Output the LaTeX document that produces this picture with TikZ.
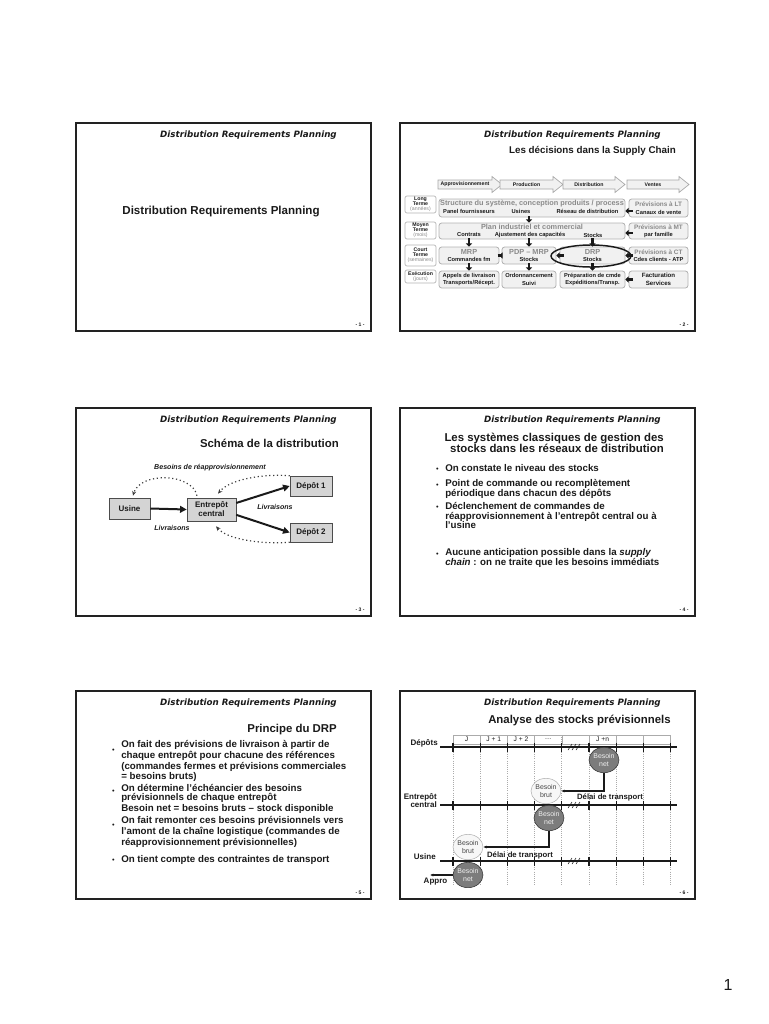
\documentclass[tikz,border=0pt]{standalone}
\usepackage{fontspec}
\setmainfont{Liberation Sans}
\newfontfamily\hdrfont{DejaVu Sans}
\usetikzlibrary{arrows.meta,shapes.geometric,shadows,positioning}
\definecolor{ink}{HTML}{1A1A1A}
\definecolor{frame}{HTML}{222222}
\definecolor{fog}{HTML}{8A8A8A}
\definecolor{pale}{HTML}{F1F1F1}
\definecolor{boxgray}{HTML}{D4D4D4}
\definecolor{netgray}{HTML}{7C7C7C}
\definecolor{gridgray}{HTML}{ABABAB}
\newcommand{\graytop}[1]{\textcolor{fog}{\fontsize{5.5}{5.6}\selectfont #1}}
\newcommand{\prevtop}[1]{\textcolor{fog}{\fontsize{4.8}{5}\selectfont #1}}
\newcommand{\termpar}[1]{\textcolor{fog}{\mdseries #1}}

\begin{document}
\begin{tikzpicture}[
    x=0.75pt, y=-0.75pt, color=ink,
    slide/.style={draw=frame, line width=1.1pt},
    hdr/.style={anchor=base east, inner sep=0pt, font=\hdrfont\bfseries\itshape\fontsize{6.55}{7}\selectfont},
    ttl/.style={anchor=base east, inner sep=0pt, font=\bfseries\fontsize{8.55}{8.25}\selectfont},
    pnum/.style={inner sep=0pt, font=\bfseries\fontsize{3.8}{4}\selectfont},
    bul/.style={anchor=base west, align=left, inner sep=0pt, font=\bfseries\fontsize{7.3}{7.3}\selectfont},
    bdot/.style={anchor=base east, inner sep=0pt, font=\fontsize{5.5}{5.5}\selectfont},
    % slide 2
    chev/.style={draw=gray!70, fill=pale, line width=0.5pt},
    chevlab/.style={inner sep=0pt, font=\bfseries\fontsize{3.9}{4}\selectfont},
    term/.style={draw=gray!60, rounded corners=1.5pt, line width=0.5pt, minimum width=23.25pt, inner sep=0pt, align=center, font=\bfseries\fontsize{3.9}{3.9}\selectfont},
    rbox/.style={draw=gray!60, fill=pale, rounded corners=2pt, line width=0.6pt, inner sep=0pt, align=center, font=\bfseries\fontsize{4.3}{5.6}\selectfont},
    bighd/.style={inner sep=0pt, text=fog, font=\bfseries\fontsize{5.5}{6}\selectfont},
    sublab/.style={inner sep=0pt, font=\bfseries\fontsize{4.3}{4.5}\selectfont},
    blkarr/.style={draw=ink, line width=2pt, -{Triangle[length=2.4pt,width=4.6pt]}},
    % slide 3
    sbox/.style={draw=gray!60!black, fill=boxgray, inner sep=0pt, align=center, font=\bfseries\fontsize{6}{6.8}\selectfont, drop shadow={shadow xshift=0.8pt, shadow yshift=-0.8pt, fill=gray!65, opacity=1}},
    fatarr/.style={draw=ink, line width=1.5pt, -{Triangle[length=5pt,width=5pt]}},
    dotarr/.style={draw=ink!85, line width=0.9pt, dotted, -{Stealth[length=3.5pt,width=3pt]}},
    itlab/.style={inner sep=0pt, font=\bfseries\itshape\fontsize{5.3}{6}\selectfont},
    % slide 6
    cell/.style={draw=gridgray, line width=0.4pt, minimum width=20.4pt, minimum height=6.75pt, inner sep=0pt, font=\fontsize{5}{5}\selectfont},
    gridline/.style={draw=gridgray, line width=0.6pt, densely dotted},
    axisline/.style={draw=ink, line width=0.8pt},
    netnode/.style={ellipse, draw=gray!40!black, fill=netgray, text=white!88!gray, minimum width=22.5pt, minimum height=19pt, inner sep=0pt, align=center, font=\fontsize{5.2}{6.2}\selectfont},
    brutnode/.style={ellipse, draw=gray!60, fill=gray!6, text=gray!55!black, minimum width=22.5pt, minimum height=19pt, inner sep=0pt, align=center, font=\fontsize{5.2}{6.2}\selectfont},
    conn/.style={draw=ink, line width=0.8pt, -{Latex[length=2.6pt,width=2.4pt]}},
    axlab/.style={anchor=base east, inner sep=0pt, align=right, font=\bfseries\fontsize{6}{6.2}\selectfont},
    delai/.style={inner sep=0pt, font=\bfseries\fontsize{5.8}{6}\selectfont}]
  % page 768 x 1024 px, 1 unit = 1 px, y downwards
  % multi-line text: the base anchor sits on the last line
  \path[use as bounding box] (0,0) rectangle (768,1024);

  % ================= six slide frames =================
  \foreach \sx/\sy/\k in {76/123/1, 400/123/2, 76/408/3, 400/408/4, 76/691/5, 400/691/6} {
    \draw[slide] (\sx,\sy) rectangle ++(295,208);
    \node[hdr] (hdr\k) at (\sx+261,\sy+14.5) {Distribution Requirements Planning};
    \node[pnum] (pnum\k) at (\sx+284,\sy+202) {- \k\ -};
  }

  % ================= 1) title slide =================
  \node[inner sep=0pt, anchor=base, font=\bfseries\fontsize{8.67}{9}\selectfont] (title1) at (221,214) {Distribution Requirements Planning};

  % ================= 2) decisions in the supply chain =================
  \node[ttl, font=\bfseries\fontsize{7.35}{8}\selectfont] (title2) at (676,153.5) {Les décisions dans la Supply Chain};
  \foreach \xa/\xb/\lab in {438/502/Approvisionnement, 500/563/Production, 563/625/Distribution, 627/689/Ventes} {
    \draw[chev] (\xa,180) -- (\xb-10,180) -- (\xb-10,176.5) -- (\xb,184.5) -- (\xb-10,192.5) -- (\xb-10,189) -- (\xa,189) -- cycle;
    \node[chevlab] (chev\lab) at ({(\xa+\xb-10)/2},184.5) {\lab};
  }
  % horizons
  \node[term, minimum height=12.75pt] (tlong) at (420.5,204.5) {Long\\Terme\\\termpar{(années)}};
  \node[term, minimum height=12.75pt] (tmoyen) at (420.5,230.5) {Moyen\\Terme\\\termpar{(mois)}};
  \node[term, minimum height=15.75pt] (tcourt) at (420.5,255.5) {Court\\Terme\\\termpar{(semaines)}};
  \node[term, minimum height=9.75pt] (texec) at (420.5,276.5) {Exécution\\\termpar{(jours)}};
  % long term
  \node[rbox, minimum width=139.5pt, minimum height=13.5pt] (struct) at (532,208) {};
  \node[bighd] (structT) at (532,203.5) {Structure du système, conception produits / process};
  \node[sublab] (panel) at (469,211.5) {Panel fournisseurs};
  \node[sublab] (usines) at (521,211.5) {Usines};
  \node[sublab] (reseau) at (587.5,211.5) {Réseau de distribution};
  \node[rbox, minimum width=44.25pt, minimum height=13.5pt] (prevLT) at (658.5,208) {\prevtop{Prévisions à LT}\\Canaux de vente};
  % medium term
  \node[rbox, minimum width=139.5pt, minimum height=12pt] (pic) at (532,231) {};
  \node[bighd] (picT) at (532,227.3) {Plan industriel et commercial};
  \node[sublab] (contrats) at (469,235) {Contrats};
  \node[sublab] (ajust) at (530,235) {Ajustement des capacités};
  \node[sublab] (stocksP) at (593,235) {Stocks};
  \node[rbox, minimum width=44.25pt, minimum height=12pt] (prevMT) at (658.5,231) {\prevtop{Prévisions à MT}\\par famille};
  % short term
  \node[rbox, minimum width=45pt, minimum height=12.75pt] (mrp) at (469,255.5) {\graytop{MRP}\\Commandes fm};
  \node[rbox, minimum width=40.5pt, minimum height=12.75pt] (pdp) at (529,255.5) {\graytop{PDP – MRP}\\Stocks};
  \node[rbox, minimum width=48.75pt, minimum height=12.75pt] (drp) at (592.5,255.5) {\graytop{DRP}\\Stocks};
  \node[rbox, minimum width=44.25pt, minimum height=12.75pt] (prevCT) at (658.5,255.5) {\prevtop{Prévisions à CT}\\Cdes clients - ATP};
  % execution
  \node[rbox, minimum width=45pt, minimum height=12.75pt] (appels) at (469,279.5) {Appels de livraison\\Transports/Récept.};
  \node[rbox, minimum width=40.5pt, minimum height=12.75pt] (ordo) at (529,279.5) {Ordonnancement\\Suivi};
  \node[rbox, minimum width=48.75pt, minimum height=12.75pt] (prep) at (592.5,279.5) {Préparation de cmde\\Expéditions/Transp.};
  \node[rbox, minimum width=44.25pt, minimum height=12.75pt, font=\bfseries\fontsize{4.6}{5.6}\selectfont] (fact) at (658.5,279.5) {Facturation\\Services};
  \node[draw=ink, line width=1.1pt, ellipse, minimum width=60pt, minimum height=16.5pt, inner sep=0pt] (drpring) at (591,256) {};
  % block arrows
  \draw[blkarr, shorten <=-1pt] (struct.south -| pdp) -- (pic.north -| pdp);
  \draw[blkarr, shorten <=-1pt] (pic.south -| mrp) -- (mrp.north);
  \draw[blkarr, shorten <=-1pt] (pic.south -| pdp) -- (pdp.north);
  \draw[blkarr, shorten <=-1pt] (pic.south -| drp) -- (drp.north);
  \draw[blkarr, shorten <=-1pt] (mrp.south) -- (appels.north);
  \draw[blkarr, shorten <=-1pt] (pdp.south) -- (ordo.north);
  \draw[blkarr, shorten <=-1pt] (drp.south) -- (prep.north);
  \draw[blkarr, shorten <=-3pt] ([yshift=-2.2pt]prevLT.west) -- ([yshift=-2.2pt]struct.east);
  \draw[blkarr, shorten <=-3pt] ([yshift=-1.5pt]prevMT.west) -- ([yshift=-1.5pt]pic.east);
  \draw[blkarr, shorten <=-3pt] (prevCT.west) -- (drp.east);
  \draw[blkarr, shorten <=-3pt] (fact.west) -- (prep.east);
  \draw[blkarr, shorten <=-3pt] (pdp.west) -- (mrp.east);
  \draw[blkarr, shorten <=-3pt] (drp.west) -- (pdp.east);

  % ================= 3) distribution scheme =================
  \node[ttl] (title3) at (339,447.5) {Schéma de la distribution};
  \node[sbox, minimum width=30.75pt, minimum height=15.75pt] (usine) at (129.5,508.5) {Usine};
  \node[sbox, minimum width=36.75pt, minimum height=17.25pt] (entrepot) at (211.5,509.5) {Entrepôt\\central};
  \node[sbox, minimum width=31.5pt, minimum height=15pt] (depot1) at (311,486) {Dépôt 1};
  \node[sbox, minimum width=31.5pt, minimum height=14.25pt] (depot2) at (311,532.5) {Dépôt 2};
  \draw[fatarr] (usine.east) -- (entrepot.west);
  \draw[fatarr] ([yshift=4.9pt]entrepot.east) -- (depot1.west);
  \draw[fatarr] ([yshift=-4pt]entrepot.east) -- (depot2.west);
  \draw[dotarr] ([xshift=-10.9pt,yshift=1.5pt]entrepot.north) .. controls +(-5,-23) and +(7,-24) .. ([xshift=2.6pt,yshift=1.5pt]usine.north);
  \draw[dotarr] (depot1.north west) .. controls +(-25,-2) and +(12,-15) .. ([xshift=4.9pt,yshift=3pt]entrepot.north);
  \draw[dotarr] (depot2.south west) .. controls +(-25,2) and +(12,14) .. ([xshift=3.4pt,yshift=-3.75pt]entrepot.south);
  \node[itlab] (besoins) at (210,467.7) {Besoins de réapprovisionnement};
  \node[itlab] (livr1) at (172,528) {Livraisons};
  \node[itlab] (livr2) at (275,506.7) {Livraisons};

  % ================= 4) classical systems =================
  \node[ttl, align=right] (title4) at (664,452.5) {Les systèmes classiques de gestion des\\stocks dans les réseaux de distribution};
  \foreach \yy/\k in {471.5/1, 487/2, 509.5/3, 556/4}
    \node[bdot] (dot4\k) at (439,\yy) {•};
  \node[bul] (b41) at (445,471.5) {On constate le niveau des stocks};
  \node[bul] (b42) at (445,496.7) {Point de commande ou recomplètement\\périodique dans chacun des dépôts};
  \node[bul] (b43) at (445,528.9) {Déclenchement de commandes de\\réapprovisionnement à l’entrepôt central ou à\\l’usine};
  \node[bul] (b44) at (445,565.7) {Aucune anticipation possible dans la \textit{supply}\\\textit{chain} : on ne traite que les besoins immédiats};

  % ================= 5) DRP principle =================
  \node[ttl] (title5) at (337,732.5) {Principe du DRP};
  \foreach \yy/\k in {752.5/1, 793.5/2, 827/3, 862.5/4}
    \node[bdot] (dot5\k) at (115,\yy) {•};
  \node[bul, font=\bfseries\fontsize{7.3}{6.75}\selectfont] (b51) at (121,779.5) {On fait des prévisions de livraison à partir de\\chaque entrepôt pour chacune des références\\(commandes fermes et prévisions commerciales\\= besoins bruts)};
  \node[bul, font=\bfseries\fontsize{7.3}{6.6}\selectfont] (b52) at (121,811) {On détermine l’échéancier des besoins\\prévisionnels de chaque entrepôt\\Besoin net = besoins bruts – stock disponible};
  \node[bul, font=\bfseries\fontsize{7.3}{6.75}\selectfont] (b53) at (121,845) {On fait remonter ces besoins prévisionnels vers\\l’amont de la chaîne logistique (commandes de\\réapprovisionnement prévisionnelles)};
  \node[bul] (b54) at (121,862.5) {On tient compte des contraintes de transport};

  % ================= 6) forecast stock analysis =================
  \node[ttl] (title6) at (671,723.5) {Analyse des stocks prévisionnels};
  \foreach \i in {0,...,8}
    \draw[gridline] ({453+27.2*\i},735) -- ({453+27.2*\i},885);
  \foreach \i/\lab in {0/J, 1/J + 1, 2/J + 2, 3/\ldots, 4/{}, 5/J +n, 6/{}, 7/{}}
    \node[cell] (cell\i) at ({466.6+27.2*\i},739.5) {\lab};
  \foreach \yy in {747, 805, 861} {
    \draw[axisline] (440,\yy) -- (677,\yy);
    \foreach \i in {0,...,8}
      \draw[axisline] ({453+27.2*\i},\yy-4.5) -- ++(0,9);
    \foreach \s in {570,574,578}
      \draw[line width=0.4pt] (\s-2,\yy+3) -- (\s+2,\yy-3);
  }
  \node[axlab] (ldep) at (438,745.5) {Dépôts};
  \node[axlab] (lent) at (437,807.8) {Entrepôt\\central};
  \node[axlab] (lusi) at (436,859.5) {Usine};
  \node[axlab, anchor=base] (lappro) at (435.5,883.5) {Appro};
  \node[netnode] (netdep) at (604,760) {Besoin\\net};
  \node[brutnode] (brutent) at (546,791) {Besoin\\brut};
  \node[netnode] (netent) at (549,818) {Besoin\\net};
  \node[brutnode] (brutusi) at (468,847) {Besoin\\brut};
  \node[netnode] (netusi) at (468,875) {Besoin\\net};
  \coordinate (appro) at (430,875);
  \draw[conn] (netdep.south) |- (brutent.east);
  \draw[conn] (netent.south) |- (brutusi.east);
  \draw[conn] (netusi.west) -- (appro);
  \node[delai] (delai1) at (610,797) {Délai de transport};
  \node[delai] (delai2) at (520,855) {Délai de transport};

  % ================= handout page number =================
  \node[inner sep=0pt, font=\fontsize{12}{12}\selectfont] (pagenum) at (728,985) {1};
\end{tikzpicture}
\end{document}
